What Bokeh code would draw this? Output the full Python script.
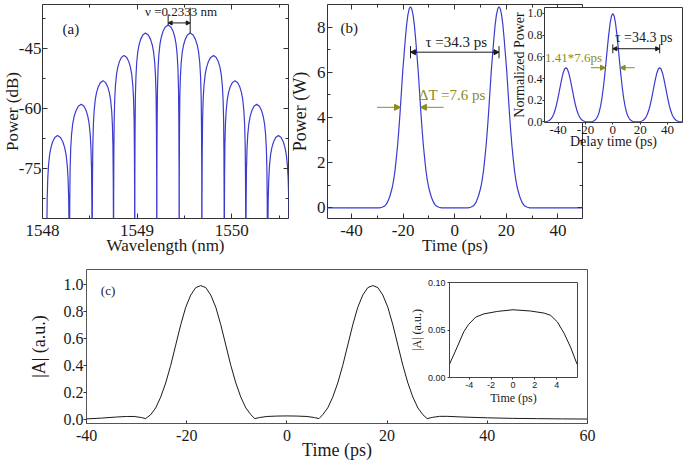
from bokeh.plotting import figure
from bokeh.models import (Range1d, LinearAxis, FixedTicker, Arrow, NormalHead, Label,
                          PrintfTickFormatter, CustomJSTickFormatter)
from bokeh.embed import file_html
from bokeh.resources import INLINE

SERIF = "Liberation Serif"
SANS = "Liberation Sans"
BLUE = "#3b3bd0"
OLIVE = "#8c8c1e"
FRAME = "#333333"

# ---------------- data: panel (a) spectrum ----------------
a_peak_wl = [1548.159, 1548.410, 1548.640, 1548.862, 1549.088, 1549.328,
             1549.561, 1549.808, 1550.034, 1550.264, 1550.493]
a_peak_db = [-66.8, -59.0, -53.1, -46.8, -41.2, -39.2, -41.2, -46.8, -53.1, -59.0, -66.8]
a_lobe_u = [0.0, 0.25, 0.45, 0.6, 0.72, 0.82, 0.89, 0.94, 0.97, 0.99, 1.0]
a_lobe_drop = [0.0, -0.5, -1.6, -3.0, -4.8, -7.5, -11.0, -16.0, -24.0, -36.0, -80.0]
a_spacing = 0.2333
a_xticks = [1548, 1549, 1550]
a_xminor = [1548.5, 1549.5, 1550.5]
a_yticks = [-75, -60, -45]
a_yminor = [-82.5, -67.5, -52.5, -37.5]

# ---------------- data: panel (b) pulse pair ----------------
b_centers = [-17.15, 17.15]
b_peak_w = 8.9
b_prof_off = [0, 0.5, 1, 1.5, 2, 2.5, 3, 3.5, 4, 4.5, 5, 5.5, 6, 6.5, 7, 7.5, 8,
              8.5, 9, 9.5, 10, 11, 12]
b_prof_val = [1.0, 0.99, 0.96, 0.91, 0.84, 0.76, 0.68, 0.58, 0.48, 0.39, 0.31, 0.245,
              0.185, 0.14, 0.105, 0.08, 0.058, 0.04, 0.026, 0.016, 0.009, 0.003, 0.0]
b_xticks = [-40, -20, 0, 20, 40]
b_xminor = [-30, -10, 10, 30]
b_yticks = [0, 2, 4, 6, 8]
b_yminor = [1, 3, 5, 7]

# ---------------- data: inset of (b) autocorrelation ----------------
bi_centers = [-34.3, 0.0, 34.3]
bi_heights = [0.5, 1.0, 0.5]
bi_prof_off = [0, 1, 2, 3, 4, 5, 6, 7, 8, 9, 10, 11, 12, 13, 14, 15, 16, 17]
bi_prof_val = [1.0, 0.976, 0.908, 0.805, 0.681, 0.548, 0.421, 0.308, 0.215, 0.143,
               0.090, 0.055, 0.031, 0.017, 0.009, 0.004, 0.002, 0.0]
bi_xticks = [-40, -20, 0, 20, 40]
bi_yticks = [0.0, 0.2, 0.4, 0.6, 0.8, 1.0]

# ---------------- data: panel (c) |A| ----------------
c_time = [-40, -37, -34, -32, -30.5, -29, -28.2,
          -27.2, -26.2, -25.2, -24.2, -23.2, -22.2, -21.2, -20.2, -19.2, -18.2, -17.2,
          -16.2, -15.2, -14.2, -13.2, -12.2, -11.2, -10.2, -9.2, -8.2, -7.2,
          -6.4, -5.5, -4, -2, 0, 2, 4, 5.5, 6.4,
          7.15, 8.15, 9.15, 10.15, 11.15, 12.15, 13.15, 14.15, 15.15, 16.15, 17.15,
          18.15, 19.15, 20.15, 21.15, 22.15, 23.15, 24.15, 25.15, 26.15, 27.15,
          28.0, 29, 30.5, 32, 35, 40, 45, 50, 55, 60]
c_amp = [0.004, 0.010, 0.018, 0.022, 0.022, 0.014, 0.006,
         0.035, 0.085, 0.165, 0.27, 0.40, 0.55, 0.70, 0.83, 0.92, 0.975, 0.99,
         0.975, 0.92, 0.83, 0.70, 0.55, 0.40, 0.27, 0.165, 0.085, 0.035,
         0.006, 0.014, 0.022, 0.025, 0.026, 0.025, 0.022, 0.014, 0.006,
         0.035, 0.085, 0.165, 0.27, 0.40, 0.55, 0.70, 0.83, 0.92, 0.975, 0.99,
         0.975, 0.92, 0.83, 0.70, 0.55, 0.40, 0.27, 0.165, 0.085, 0.035,
         0.006, 0.015, 0.023, 0.023, 0.018, 0.012, 0.008, 0.006, 0.004, 0.003]
c_xticks = [-40, -20, 0, 20, 40, 60]
c_yticks = [0.0, 0.2, 0.4, 0.6, 0.8, 1.0]

# ---------------- data: inset of (c) ----------------
ci_time = [-5.8, -5.1, -4.5, -4.05, -3.4, -2.65, -1.4, 0.0, 1.6, 2.85, 3.45, 4.07, 4.7, 5.3, 5.86]
ci_amp = [0.014, 0.032, 0.048, 0.056, 0.0636, 0.067, 0.0696, 0.0713, 0.070, 0.0678,
          0.0654, 0.0584, 0.046, 0.031, 0.014]
ci_xticks = [-4, -2, 0, 2, 4]
ci_yticks = [0.0, 0.05, 0.10]


# ---------------- helpers ----------------
def make_fig(fw, fh, xr, yr, l, r, t, b):
    p = figure(frame_width=fw, frame_height=fh, x_range=Range1d(*xr), y_range=Range1d(*yr),
               output_backend="svg", toolbar_location=None,
               min_border_left=l, min_border_right=r, min_border_top=t, min_border_bottom=b,
               background_fill_color="white", border_fill_color=None,
               outline_line_color=FRAME, outline_line_width=1)
    p.grid.visible = False
    return p


def style_axis(ax, font, tick_fs, label_fs, tin=5, tout=0, min_in=3, min_out=0,
               standoff=3, label_standoff=4):
    ax.axis_line_color = None
    ax.major_tick_in = tin
    ax.major_tick_out = tout
    ax.minor_tick_in = min_in
    ax.minor_tick_out = min_out
    ax.major_tick_line_color = FRAME
    ax.minor_tick_line_color = FRAME
    ax.major_label_text_font = font
    ax.major_label_text_font_size = f"{tick_fs}px"
    ax.major_label_text_color = "#1a1a1a"
    ax.major_label_standoff = standoff
    ax.axis_label_text_font = SERIF
    ax.axis_label_text_font_style = "normal"
    ax.axis_label_text_font_size = f"{label_fs}px"
    ax.axis_label_text_color = "#1a1a1a"
    ax.axis_label_standoff = label_standoff


def mirror(p, xt, xm, yt, ym):
    top = LinearAxis(ticker=FixedTicker(ticks=xt, minor_ticks=xm),
                     formatter=CustomJSTickFormatter(code="return ''"))
    right = LinearAxis(ticker=FixedTicker(ticks=yt, minor_ticks=ym),
                       formatter=CustomJSTickFormatter(code="return ''"))
    for ax in (top, right):
        ax.axis_line_color = None
        ax.major_tick_in = 5
        ax.major_tick_out = 0
        ax.minor_tick_in = 3
        ax.minor_tick_out = 0
        ax.major_tick_line_color = FRAME
        ax.minor_tick_line_color = FRAME
        ax.major_label_text_font_size = "1px"
        ax.major_label_standoff = 0
    p.add_layout(top, "above")
    p.add_layout(right, "right")


def place(p, left, top):
    p.styles = {"position": "absolute", "left": f"{left}px", "top": f"{top}px"}


def label(p, x, y, text, size, color="#1a1a1a", style="normal", font=SERIF, align="center"):
    p.add_layout(Label(x=x, y=y, text=text, text_font=font, text_font_size=f"{size}px",
                       text_color=color, text_font_style=style, text_align=align,
                       text_baseline="middle"))


def darrow(p, x0, x1, y, color, size=5):
    p.add_layout(Arrow(x_start=x0, y_start=y, x_end=x1, y_end=y, line_color=color,
                       line_width=1,
                       start=NormalHead(size=size, fill_color=color, line_color=color),
                       end=NormalHead(size=size, fill_color=color, line_color=color)))


def sarrow(p, x0, x1, y, color, size=6):
    p.add_layout(Arrow(x_start=x0, y_start=y, x_end=x1, y_end=y, line_color=color,
                       line_width=1,
                       end=NormalHead(size=size, fill_color=color, line_color=color)))


INT_FMT = "%d"

# frame positions in page pixels (left, top) and the border reserved left / top
A_POS, B_POS, BI_POS, C_POS, CI_POS = (42, 4), (327, 4), (544, 7), (86, 269), (449, 282)
BIG = 90

# ---------------- panel (a) ----------------
pa = make_fig(246, 214, (1548.0, 1550.6), (-87.5, -34.1), BIG, 15, 15, 0)
a_x, a_y = [], []
n = len(a_peak_wl)
for i in range(n):
    c = a_peak_wl[i]
    hl = (c - a_peak_wl[i - 1]) / 2 if i > 0 else a_spacing / 2
    hr = (a_peak_wl[i + 1] - c) / 2 if i < n - 1 else a_spacing / 2
    for u, d in zip(reversed(a_lobe_u[1:]), reversed(a_lobe_drop[1:])):
        a_x.append(c - u * hl)
        a_y.append(a_peak_db[i] + d)
    a_x.append(c)
    a_y.append(a_peak_db[i])
    for u, d in zip(a_lobe_u[1:], a_lobe_drop[1:]):
        a_x.append(c + u * hr)
        a_y.append(a_peak_db[i] + d)
pa.line(a_x, a_y, line_color=BLUE, line_width=1.2)
pa.xaxis.ticker = FixedTicker(ticks=a_xticks, minor_ticks=a_xminor)
pa.yaxis.ticker = FixedTicker(ticks=a_yticks, minor_ticks=a_yminor)
pa.xaxis.formatter = PrintfTickFormatter(format=INT_FMT)
pa.yaxis.formatter = PrintfTickFormatter(format=INT_FMT)
pa.xaxis.axis_label = "Wavelength (nm)"
pa.yaxis.axis_label = "Power (dB)"
style_axis(pa.xaxis[0], SERIF, 17, 17, standoff=6, label_standoff=-3)
style_axis(pa.yaxis[0], SERIF, 17, 17, standoff=1, label_standoff=-6)
mirror(pa, a_xticks, a_xminor, a_yticks, a_yminor)
label(pa, 1548.3, -40.1, "(a)", 15)
label(pa, 1549.465, -35.9, "\u03bd =0.2333 nm", 13)
darrow(pa, a_peak_wl[5], a_peak_wl[6], -38.7, "#1a1a1a", size=4)
pa.segment(x0=[a_peak_wl[5], a_peak_wl[6]], y0=[-36.5, -34.9],
           x1=[a_peak_wl[5], a_peak_wl[6]], y1=[a_peak_db[5], a_peak_db[6]],
           line_color="#1a1a1a", line_width=1)

# ---------------- panel (b) ----------------
pb = make_fig(255, 214, (-49.3, 49.5), (-0.47, 9.0), BIG, 15, 15, 0)
b_x, b_y = [-49.3], [0.0]
for c in b_centers:
    for o, v in zip(reversed(b_prof_off[1:]), reversed(b_prof_val[1:])):
        b_x.append(c - o)
        b_y.append(b_peak_w * v)
    for o, v in zip(b_prof_off, b_prof_val):
        b_x.append(c + o)
        b_y.append(b_peak_w * v)
b_x.append(49.5)
b_y.append(0.0)
pb.line(b_x, b_y, line_color=BLUE, line_width=1.2)
pb.xaxis.ticker = FixedTicker(ticks=b_xticks, minor_ticks=b_xminor)
pb.yaxis.ticker = FixedTicker(ticks=b_yticks, minor_ticks=b_yminor)
pb.xaxis.formatter = PrintfTickFormatter(format=INT_FMT)
pb.yaxis.formatter = PrintfTickFormatter(format=INT_FMT)
pb.xaxis.axis_label = "Time (ps)"
pb.yaxis.axis_label = "Power (W)"
style_axis(pb.xaxis[0], SERIF, 17, 17, standoff=6, label_standoff=-3)
style_axis(pb.yaxis[0], SERIF, 17, 18, standoff=2, label_standoff=4)
mirror(pb, b_xticks, b_xminor, b_yticks, b_yminor)
label(pb, -40.9, 7.98, "(b)", 15)
label(pb, 0.56, 7.32, "\u03c4 =34.3 ps", 15)
darrow(pb, b_centers[0], b_centers[1], 6.89, "#1a1a1a", size=5)
pb.segment(x0=b_centers, y0=[7.16, 7.16], x1=b_centers, y1=[6.62, 6.62],
           line_color="#1a1a1a", line_width=1)
label(pb, -0.98, 5.0, "\u0394T =7.6 ps", 15, color=OLIVE)
sarrow(pb, -30.1, -21.0, b_peak_w / 2, OLIVE)
sarrow(pb, -4.3, -13.3, b_peak_w / 2, OLIVE)

# ---------------- inset of (b) ----------------
BI_L = 70
pbi = make_fig(138, 115, (-50, 51), (-0.005, 1.055), BI_L, 3, 3, 0)
bi_x, bi_y = [], []
for c, h in zip(bi_centers, bi_heights):
    for o, v in zip(reversed(bi_prof_off[1:]), reversed(bi_prof_val[1:])):
        bi_x.append(c - o)
        bi_y.append(h * v)
    for o, v in zip(bi_prof_off, bi_prof_val):
        bi_x.append(c + o)
        bi_y.append(h * v)
pbi.line(bi_x, bi_y, line_color=BLUE, line_width=1.2)
pbi.xaxis.ticker = FixedTicker(ticks=bi_xticks)
pbi.yaxis.ticker = FixedTicker(ticks=bi_yticks)
pbi.xaxis.formatter = PrintfTickFormatter(format=INT_FMT)
pbi.yaxis.formatter = PrintfTickFormatter(format="%.1f")
pbi.xaxis.axis_label = "Delay time (ps)"
pbi.yaxis.axis_label = "Normalized Power"
style_axis(pbi.xaxis[0], SERIF, 13, 14, tin=0, tout=2, standoff=1, label_standoff=-3)
style_axis(pbi.yaxis[0], SERIF, 12, 14, tin=0, tout=2, standoff=0, label_standoff=-2)
label(pbi, 22.6, 0.779, "\u03c4 =34.3 ps", 14)
darrow(pbi, 0.0, 34.3, 0.675, "#1a1a1a", size=4)
pbi.segment(x0=[0.0, 34.3], y0=[0.715, 0.715], x1=[0.0, 34.3], y1=[0.633, 0.633],
            line_color="#1a1a1a", line_width=1)
label(pbi, -28.7, 0.59, "1.41*7.6ps", 13, color=OLIVE)
sarrow(pbi, -16.0, -5.35, 0.5, OLIVE, size=5)
sarrow(pbi, 16.0, 5.35, 0.5, OLIVE, size=5)

# ---------------- panel (c) ----------------
pc = make_fig(501, 154, (-40.01, 60.01), (-0.03, 1.109), BIG, 10, 6, 0)
pc.line(c_time, c_amp, line_color="#1a1a1a", line_width=1)
pc.xaxis.ticker = FixedTicker(ticks=c_xticks)
pc.yaxis.ticker = FixedTicker(ticks=c_yticks)
pc.xaxis.formatter = PrintfTickFormatter(format=INT_FMT)
pc.yaxis.formatter = PrintfTickFormatter(format="%.1f")
pc.xaxis.axis_label = "Time (ps)"
pc.yaxis.axis_label = "|A| (a.u.)"
style_axis(pc.xaxis[0], SERIF, 16, 18, tin=3, tout=0, standoff=6, label_standoff=-4)
style_axis(pc.yaxis[0], SERIF, 16, 18, tin=0, tout=3, standoff=0, label_standoff=12)
pc.outline_line_color = "#555555"
label(pc, -35.7, 0.956, "(c)", 13)

# ---------------- inset of (c) ----------------
CI_L = 70
pci = make_fig(128, 95, (-5.8, 5.9), (0.0, 0.1), CI_L, 10, 10, 0)
pci.line(ci_time, ci_amp, line_color="#1a1a1a", line_width=1)
pci.xaxis.ticker = FixedTicker(ticks=ci_xticks)
pci.yaxis.ticker = FixedTicker(ticks=ci_yticks)
pci.xaxis.formatter = PrintfTickFormatter(format=INT_FMT)
pci.yaxis.formatter = PrintfTickFormatter(format="%.2f")
pci.xaxis.axis_label = "Time (ps)"
pci.yaxis.axis_label = "|A| (a.u.)"
style_axis(pci.xaxis[0], SANS, 9, 12, tin=0, tout=2, standoff=2, label_standoff=0)
style_axis(pci.yaxis[0], SANS, 9, 12, tin=0, tout=2, standoff=2, label_standoff=1)
pci.outline_line_color = "#444444"

# ---------------- placement (page pixels), separate roots so borders are not aligned ----
place(pa, A_POS[0] - BIG, A_POS[1] - 15)
place(pb, B_POS[0] - BIG, B_POS[1] - 15)
place(pbi, BI_POS[0] - BI_L, BI_POS[1] - 3)
place(pc, C_POS[0] - BIG, C_POS[1] - 6)
place(pci, CI_POS[0] - CI_L, CI_POS[1] - 10)

with open("out.html", "w") as f:
    f.write(file_html([pa, pb, pbi, pc, pci], INLINE))
